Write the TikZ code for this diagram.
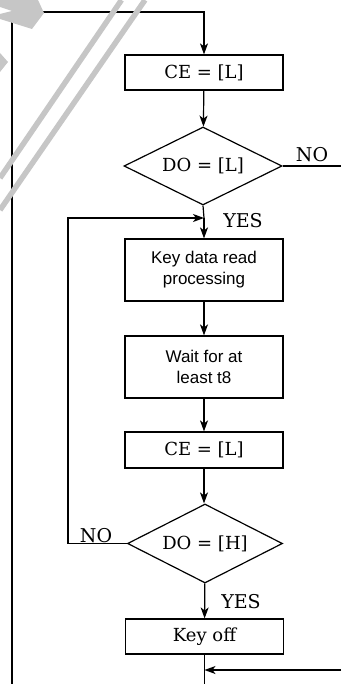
\documentclass[tikz,border=0pt]{standalone}
\usepackage{fontspec}
\setmainfont{DejaVu Serif}
\newfontfamily\helv{Liberation Sans}
\usetikzlibrary{shapes.geometric,arrows.meta}

\begin{document}
\begin{tikzpicture}[x=1pt,y=-1pt,line width=1.2pt,
	box/.style={draw,rectangle,minimum width=158pt,inner sep=0pt,align=center,font=\fontsize{18}{21}\selectfont},
	cond/.style={draw,diamond,aspect=2,minimum width=158pt,minimum height=78pt,inner sep=0pt,font=\fontsize{18}{21}\selectfont},
	lbl/.style={inner sep=0pt,anchor=base,font=\fontsize{19}{21}\selectfont},
	arr/.style={-{Stealth[length=11pt,width=8pt,inset=3pt]}},
	stripe/.style={gray!45,line width=5.5pt}]
		\useasboundingbox (0,0) rectangle (341,684);
		\coordinate (topleft) at (12,12);
		\coordinate (top) at (204,12);
		\coordinate (botleft) at (12,684);
		\node [box,minimum height=35pt] (ce1) at (204,72.5) {CE = [L]};
		\node [cond] (do1) at (203,166) {DO = [L]};
		\coordinate (noend) at (341,166);
		\node [lbl] (no1) at (312,162) {NO};
		\coordinate (join) at (204,218);
		\node [lbl] (yes1) at (243,228) {YES};
		\node [box,minimum height=62pt,font=\helv\fontsize{17}{21}\selectfont] (read) at (204,270) {Key data read\\processing};
		\node [box,minimum height=62pt,font=\helv\fontsize{17}{21}\selectfont] (wait) at (204,367) {Wait for at\\least t8};
		\node [box,minimum height=36pt] (ce2) at (204,450) {CE = [L]};
		\node [cond,minimum width=155pt,minimum height=79pt] (do2) at (205,543.5) {DO = [H]};
		\node [lbl] (no2) at (96,542) {NO};
		\node [lbl] (yes2) at (241,608) {YES};
		\node [box,minimum height=35pt] (off) at (204.5,636.5) {Key off};
		\coordinate (loopbot) at (68,543.5);
		\coordinate (looptop) at (68,218);
		\coordinate (botmid) at (204.5,684);
		\coordinate (botright) at (341,670);
		\coordinate (botjoin) at (204.5,670);
		\draw[arr] (botleft) -- (topleft) -- (top) -- (ce1);
		\draw[arr] (ce1) -- (do1);
		\draw (do1.east) -- (noend);
		\draw (do1.south) -- (join);
		\draw[arr] (join) -- (read);
		\draw[arr] (do2.west) -- (loopbot) -- (looptop) -- (join);
		\draw[arr] (read) -- (wait);
		\draw[arr] (wait) -- (ce2);
		\draw[arr] (ce2) -- (ce2 |- do2.north);
		\draw[arr] (do2) -- (off);
		\draw (off) -- (botmid);
		\draw[arr] (botright) -- (botjoin);
		% watermark
		\fill [gray!45] (0,0) -- (38,0) -- (44,13) -- (32,29) -- (0,19) -- (0,14) -- (12,11) -- (0,7) -- cycle;
		\fill [gray!45] (0,53) -- (8,62) -- (0,72) -- cycle;
		\draw [stripe] (121.5,0) -- (0,178);
		\draw [stripe] (145,0) -- (0,210);
	\end{tikzpicture}
\end{document}
